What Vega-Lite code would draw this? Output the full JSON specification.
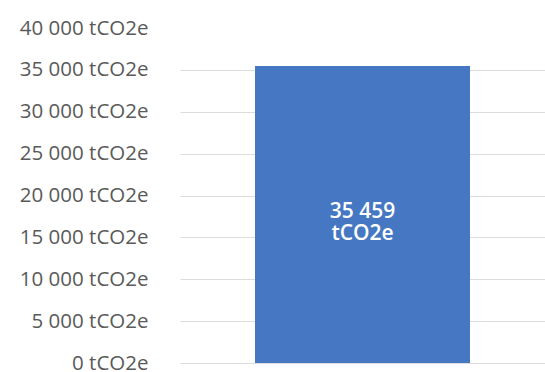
{
  "$schema": "https://vega.github.io/schema/vega-lite/v6.json",
  "width": 365,
  "height": 335,
  "autosize": {"type": "none"},
  "padding": {"left": 180, "top": 28, "right": 0, "bottom": 9},
  "background": "white",
  "config": {"view": {"stroke": null}, "font": "Open Sans"},
  "data": {"values": [{"category": "Total", "value": 35459}]},
  "transform": [
    {"calculate": "[replace(format(datum.value, ',d'), ',', ' '), 'tCO2e']", "as": "label"}
  ],
  "encoding": {
    "x": {"field": "category", "type": "nominal", "axis": null, "scale": {"paddingInner": 0, "paddingOuter": 0}},
    "y": {
      "field": "value",
      "type": "quantitative",
      "scale": {"domain": [0, 40000], "nice": false},
      "axis": {
        "title": null,
        "values": [0, 5000, 10000, 15000, 20000, 25000, 30000, 35000, 40000],
        "labelExpr": "replace(format(datum.value, ',d'), ',', ' ') + ' tCO2e'",
        "labelFont": "Open Sans",
        "labelFontSize": 20.5,
        "labelColor": "#5a5a5a",
        "labelPadding": 32,
        "ticks": false,
        "domain": false,
        "grid": true,
        "gridColor": "#dcdcdc",
        "gridWidth": 1,
        "gridOpacity": {"condition": {"test": "datum.value == 40000", "value": 0}, "value": 1}
      }
    }
  },
  "layer": [
    {"mark": {"type": "bar", "color": "#4577c3", "width": 215}},
    {
      "mark": {"type": "text", "color": "white", "font": "Open Sans", "fontSize": 21, "fontWeight": 600, "align": "center", "baseline": "middle", "lineHeight": 22},
      "encoding": {
        "y": {"datum": 18000, "type": "quantitative"},
        "text": {"field": "label"}
      }
    }
  ]
}
